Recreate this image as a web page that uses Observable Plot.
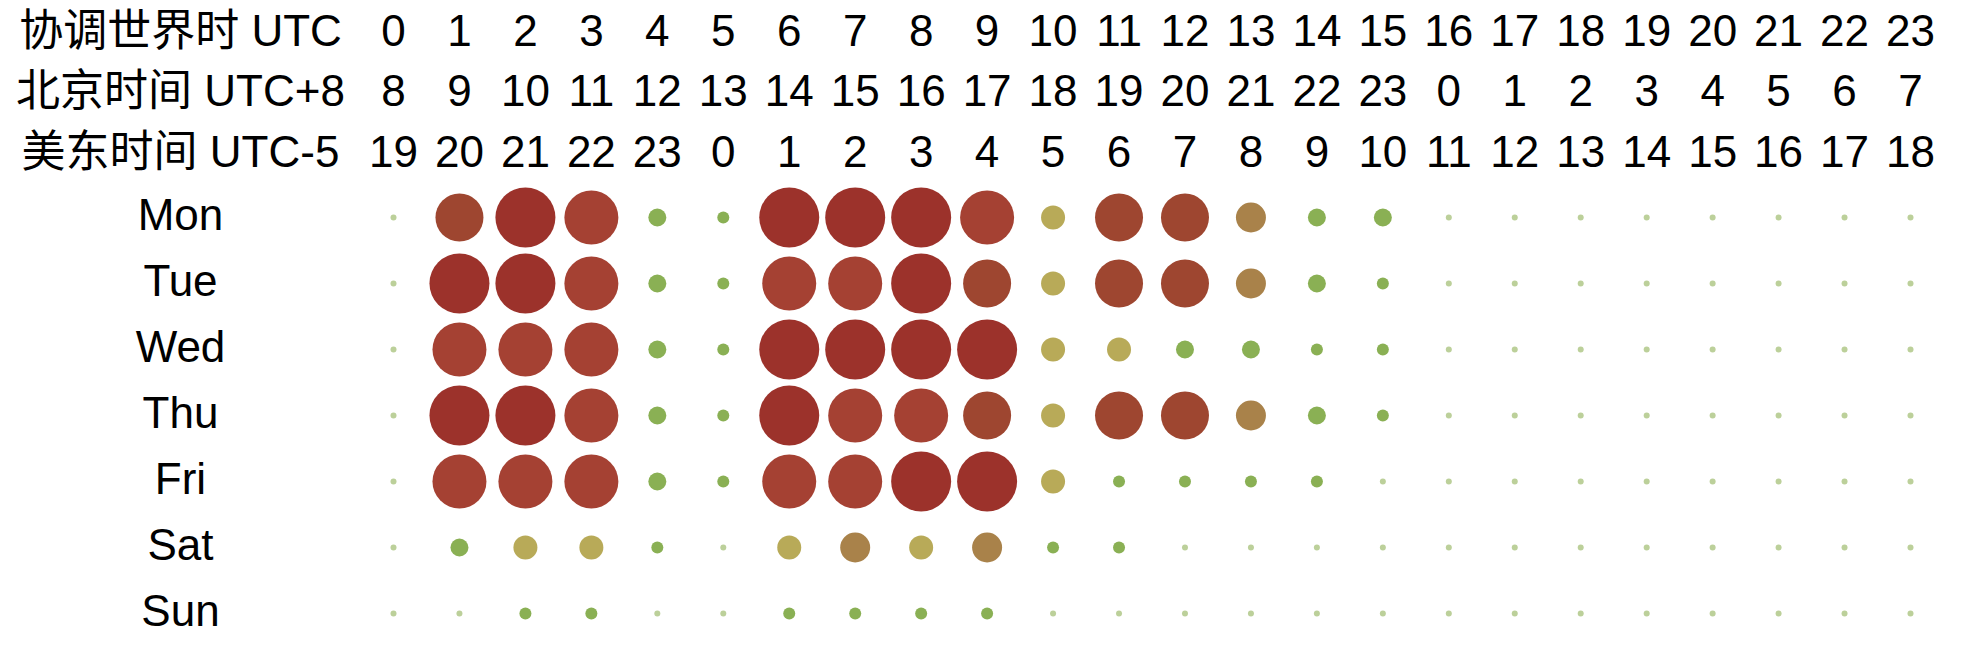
<!DOCTYPE html>
<html>
<head>
<meta charset="utf-8">
<script src="https://cdn.jsdelivr.net/npm/d3@7"></script>
<script src="https://cdn.jsdelivr.net/npm/@observablehq/plot@0.6"></script>
<style>
  html, body { margin: 0; padding: 0; background: #ffffff; }
  #chart svg { display: block; }
</style>
</head>
<body>
<div id="chart"></div>
<script>
// ---- data ----
const hours = [0, 1, 2, 3, 4, 5, 6, 7, 8, 9, 10, 11, 12, 13, 14, 15, 16, 17, 18, 19, 20, 21, 22, 23];
const headerNames = ["协调世界时 UTC", "北京时间 UTC+8", "美东时间 UTC-5"];
const utcLabels      = ["0","1","2","3","4","5","6","7","8","9","10","11","12","13","14","15","16","17","18","19","20","21","22","23"];
const beijingLabels  = ["8","9","10","11","12","13","14","15","16","17","18","19","20","21","22","23","0","1","2","3","4","5","6","7"];
const easternLabels  = ["19","20","21","22","23","0","1","2","3","4","5","6","7","8","9","10","11","12","13","14","15","16","17","18"];

const days = ["Mon", "Tue", "Wed", "Thu", "Fri", "Sat", "Sun"];
// activity level per UTC hour (0..23)
const mon = [1, 8, 10, 9, 3, 2, 10, 10, 10, 9, 4, 8, 8, 5, 3, 3, 1, 1, 1, 1, 1, 1, 1, 1];
const tue = [1, 10, 10, 9, 3, 2, 9, 9, 10, 8, 4, 8, 8, 5, 3, 2, 1, 1, 1, 1, 1, 1, 1, 1];
const wed = [1, 9, 9, 9, 3, 2, 10, 10, 10, 10, 4, 4, 3, 3, 2, 2, 1, 1, 1, 1, 1, 1, 1, 1];
const thu = [1, 10, 10, 9, 3, 2, 10, 9, 9, 8, 4, 8, 8, 5, 3, 2, 1, 1, 1, 1, 1, 1, 1, 1];
const fri = [1, 9, 9, 9, 3, 2, 9, 9, 10, 10, 4, 2, 2, 2, 2, 1, 1, 1, 1, 1, 1, 1, 1, 1];
const sat = [1, 3, 4, 4, 2, 1, 4, 5, 4, 5, 2, 2, 1, 1, 1, 1, 1, 1, 1, 1, 1, 1, 1, 1];
const sun = [1, 1, 2, 2, 1, 1, 2, 2, 2, 2, 1, 1, 1, 1, 1, 1, 1, 1, 1, 1, 1, 1, 1, 1];

const levels = [1, 2, 3, 4, 5, 8, 9, 10];
const levelColors = ["#bcd09a", "#8ab054", "#8ab054", "#b8aa58", "#a9824a", "#9e4630", "#a54133", "#9c322b"];

// ---- tables built from the arrays ----
const headerLabelSets = [utcLabels, beijingLabels, easternLabels];
const headerCells = headerNames.flatMap((name, i) =>
  hours.map((h, j) => ({row: name, hour: h, label: headerLabelSets[i][j]})));
const series = [mon, tue, wed, thu, fri, sat, sun];
const cells = days.flatMap((d, i) => hours.map((h, j) => ({day: d, hour: h, v: series[i][j]})));

const font = '"Liberation Sans", Arial, Helvetica, "Noto Sans CJK SC", sans-serif';
const W = 1980, ML = 393, MR = 70;
const common = {
  width: W, marginLeft: ML, marginRight: MR,
  style: {fontFamily: font, fontSize: "44px", color: "#000", background: "transparent", overflow: "visible"}
};
const xScale = {type: "point", domain: hours, padding: 0, round: false, axis: null};

const header = Plot.plot({
  ...common,
  height: 185, marginTop: 31, marginBottom: 33,
  x: xScale,
  y: {type: "point", domain: headerNames, padding: 0, round: false, label: null},
  marks: [
    Plot.text(headerCells, {x: "hour", y: "row", text: "label", fontSize: 44, fill: "#000"}),
    Plot.axisY({tickSize: 0, tickPadding: 213, textAnchor: "middle", fontSize: 44, fill: "#000", label: null})
  ]
});

const grid = Plot.plot({
  ...common,
  height: 469, marginTop: 32, marginBottom: 41,
  x: xScale,
  y: {type: "point", domain: days, padding: 0, round: false, label: null},
  r: {type: "linear", domain: [0, 10], range: [0, 30]},
  color: {type: "ordinal", domain: levels, range: levelColors},
  marks: [
    Plot.dot(cells, {x: "hour", y: "day", r: "v", fill: "v", stroke: null}),
    Plot.axisY({tickSize: 0, tickPadding: 213, textAnchor: "middle", fontSize: 44, dy: -2, fill: "#000", label: null})
  ]
});

const root = document.getElementById("chart");
root.append(header, grid);
</script>
</body>
</html>
